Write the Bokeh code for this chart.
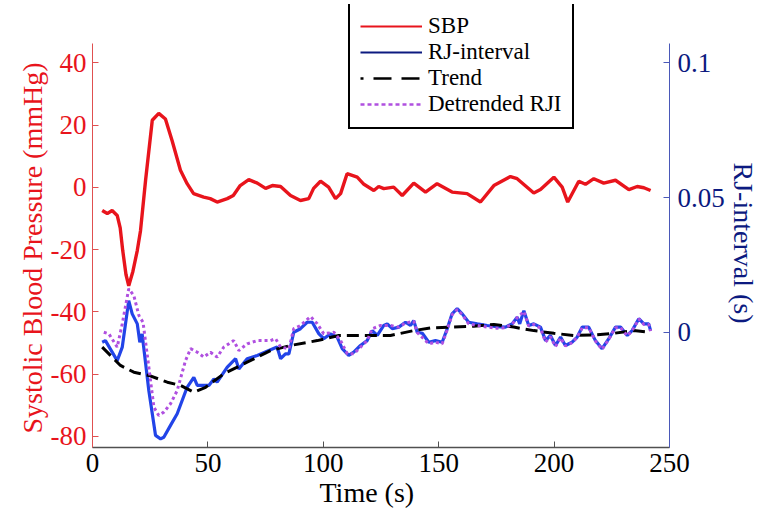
from bokeh.plotting import figure
from bokeh.models import Range1d, LinearAxis, FixedTicker, NumeralTickFormatter, Legend, LegendItem, Title
from bokeh.embed import file_html
from bokeh.resources import INLINE

# ---------------- data ----------------
sbp_t = [4.2, 6.4, 8.5, 10.7, 12.0, 13.1, 14.5, 15.7, 17.5, 19.4, 20.8, 23.0, 25.9, 28.7, 31.6,
         34.5, 38.1, 41.0, 43.8, 48.2, 51.0, 54.0, 58.4, 61.0, 64.0, 67.7, 71.4, 75.0, 77.9, 81.5,
         85.8, 90.1, 93.7, 95.8, 98.8, 102.3, 105.3, 107.5, 110.3, 114.7, 117.6, 121.9, 124.0, 126.2, 130.5,
         134.2, 139.2, 144.3, 149.3, 155.8, 162.3, 168.1, 173.9, 181.1, 184.0, 191.2, 194.1, 199.9, 203.5, 205.9,
         210.7, 213.6, 217.2, 221.5, 226.6, 232.4, 236.0, 238.9, 241.8]
sbp_v = [-7.4, -8.4, -7.4, -9.0, -13.0, -20.3, -28.0, -31.6, -27.0, -20.3, -13.9, 2.3, 21.6, 23.8, 22.0,
         15.0, 5.5, 1.2, -2.0, -3.1, -3.6, -4.7, -3.6, -2.6, 0.6, 2.5, 1.4, -0.3, 0.6, 0.3,
         -2.6, -4.2, -3.6, -0.3, 2.0, 0.1, -3.6, -2.0, 4.4, 3.3, 1.0, -1.0, 0.3, -0.4, 0.1,
         -2.6, 1.4, -1.5, 1.2, -1.5, -2.0, -4.7, 0.6, 3.5, 2.8, -1.8, -0.7, 3.3, 0.1, -4.7,
         2.0, 1.0, 2.8, 1.4, 2.3, -0.7, 0.3, -0.1, -1.0]

rji_t = [4.2, 5.6, 10.7, 12.9, 15.7, 17.2, 19.4, 20.5, 21.5, 24.4, 27.3, 29.5, 30.9, 33.8, 36.7,
         41.0, 43.9, 45.4, 50.4, 52.6, 54.0, 58.4, 62.0, 63.4, 67.0, 71.4, 76.4, 80.0, 81.5, 83.6,
         85.1, 87.2, 90.1, 93.0, 95.2, 98.1, 100.2, 103.1, 106.0, 108.2, 111.0, 113.2, 116.1, 119.0, 121.2,
         123.4, 126.2, 127.7, 129.9, 132.7, 135.6, 137.8, 139.2, 140.7, 142.9, 145.7, 148.6, 151.5, 153.7, 155.8,
         158.0, 160.2, 163.0, 166.7, 171.0, 175.3, 178.9, 181.8, 184.0, 185.1, 186.9, 189.0, 191.2, 194.1, 196.3,
         198.4, 200.6, 202.8, 204.9, 207.8, 210.0, 212.2, 215.0, 217.9, 220.8, 223.7, 226.6, 228.8, 231.7, 233.8,
         236.7, 238.9, 241.0, 241.8]
rji_v = [-0.0036, -0.0030, -0.0104, -0.0054, 0.0118, 0.0069, 0.0032, -0.0036, -0.0005, -0.0215, -0.0381, -0.0394, -0.0388, -0.0344, -0.0301,
         -0.0203, -0.0166, -0.0196, -0.0196, -0.0172, -0.0184, -0.0128, -0.0097, -0.0135, -0.0097, -0.0085, -0.0067, -0.0054, -0.0097, -0.0079,
         -0.0079, 0.0001, 0.0014, 0.0038, 0.0038, -0.0005, -0.0023, -0.0005, -0.0017, -0.0060, -0.0085, -0.0073, -0.0048, -0.0030, 0.0007,
         -0.0011, 0.0026, 0.0032, 0.0014, 0.0020, 0.0038, 0.0026, 0.0044, 0.0001, -0.0003, -0.0036, -0.0030, -0.0036, 0.0014, 0.0069,
         0.0088, 0.0069, 0.0038, 0.0032, 0.0026, 0.0022, 0.0020, 0.0032, 0.0057, 0.0032, 0.0081, 0.0026, 0.0032, 0.0020, -0.0030,
         -0.0011, -0.0048, -0.0017, -0.0048, -0.0036, -0.0017, 0.0020, 0.0020, -0.0030, -0.0060, -0.0023, 0.0020, 0.0020, -0.0011, 0.0007,
         0.0051, 0.0032, 0.0032, 0.0007]

trend_t = [4.2, 12.1, 17.9, 24.4, 32.4, 38.1, 43.9, 49.0, 56.9, 67.0, 77.1, 85.8, 97.4, 106.7, 123.4,
           129.1, 139.2, 146.4, 155.1, 165.2, 173.9, 182.5, 191.2, 199.9, 208.5, 217.2, 225.9, 234.5, 241.0]
trend_v = [-0.0054, -0.0122, -0.0147, -0.0159, -0.0184, -0.0196, -0.0221, -0.0203, -0.0153, -0.0110, -0.0067, -0.0048, -0.0030, -0.0011, -0.0011,
           -0.0011, 0.0007, 0.0017, 0.0020, 0.0023, 0.0030, 0.0020, 0.0007, -0.0003, -0.0011, -0.0009, -0.0003, 0.0007, 0.0001]

det_t = [4.9, 7.1, 10.7, 12.9, 15.7, 17.9, 20.1, 21.9, 24.4, 26.6, 28.7, 30.9, 33.8, 36.7, 40.3,
         42.5, 45.4, 48.2, 51.1, 54.0, 56.9, 61.2, 63.4, 67.0, 71.4, 77.1, 79.3, 81.5, 85.1, 87.2,
         90.1, 94.5, 97.4, 100.2, 104.6, 107.5, 110.4, 113.2, 119.0, 121.2, 124.8, 129.1, 132.7, 135.6, 139.2,
         140.7, 145.7, 148.6, 151.5, 153.7, 155.8, 158.0, 160.2, 163.0, 166.7, 171.0, 175.3, 178.9, 181.8, 184.0,
         186.9, 189.0, 191.2, 194.1, 196.3, 198.4, 200.6, 202.8, 204.9, 207.8, 210.0, 212.2, 215.0, 217.9, 220.8,
         223.7, 226.6, 228.8, 231.7, 233.8, 236.7, 238.9, 241.0, 241.8]
det_v = [0.0001, -0.0005, -0.0054, 0.0032, 0.0162, 0.0137, 0.0063, 0.0038, -0.0128, -0.0277, -0.0307, -0.0295, -0.0264, -0.0215, -0.0104,
         -0.0060, -0.0073, -0.0091, -0.0073, -0.0091, -0.0054, -0.0030, -0.0067, -0.0042, -0.0030, -0.0030, -0.0023, -0.0054, -0.0060, 0.0014,
         0.0026, 0.0059, 0.0032, -0.0005, 0.0001, -0.0030, -0.0079, -0.0079, -0.0030, 0.0014, 0.0026, 0.0026, 0.0020, 0.0035, 0.0042,
         0.0000, -0.0042, -0.0036, -0.0042, 0.0010, 0.0066, 0.0085, 0.0066, 0.0032, 0.0026, 0.0020, 0.0016, 0.0018, 0.0030, 0.0055,
         0.0078, 0.0024, 0.0030, 0.0016, -0.0035, -0.0016, -0.0052, -0.0020, -0.0050, -0.0038, -0.0018, 0.0018, 0.0018, -0.0032, -0.0062,
         -0.0025, 0.0018, 0.0018, -0.0012, 0.0006, 0.0050, 0.0030, 0.0030, 0.0005]

x_ticks = [0, 50, 100, 150, 200, 250]
left_ticks = [-80, -60, -40, -20, 0, 20, 40]
right_ticks = [0, 0.05, 0.1]
legend_labels = ["SBP", "RJ-interval", "Trend", "Detrended RJI"]
x_label = "Time (s)"
left_label = "Systolic Blood Pressure (mmHg)"
right_label = "RJ-interval (s)"

# ---------------- styling ----------------
FONT = "Liberation Serif"
RED = "#e8141c"
RED_AXIS = "#e05050"
BLUE = "#2244e8"
NAVY = "#0c1a80"
NAVY_AXIS = "#4a58b8"
PURPLE = "#b050e0"
TICK_FS = "27px"
LABEL_FS = "28px"

# frame extends above the axes' drawn extent so the legend box can sit there
p = figure(width=773, height=526, output_backend="svg", toolbar_location=None,
           x_range=Range1d(0, 250), y_range=Range1d(-83.6, 58.8),
           min_border_left=92, min_border_right=104, min_border_top=4, min_border_bottom=79)
p.extra_y_ranges = {"rji": Range1d(-0.0426, 0.1215)}
p.outline_line_color = None
p.xgrid.visible = False
p.ygrid.visible = False
p.background_fill_color = "white"
p.border_fill_color = "white"

# bottom axis
xa = p.xaxis[0]
xa.ticker = FixedTicker(ticks=x_ticks)
xa.axis_line_color = "#505050"
xa.axis_line_width = 1.5
xa.major_tick_in = 6
xa.major_tick_out = 0
xa.minor_tick_line_color = None
xa.major_tick_line_color = "#505050"
xa.major_label_text_font = FONT
xa.major_label_text_font_size = TICK_FS
xa.major_label_text_color = "black"
xa.major_label_standoff = 6

# left axis
ya = p.yaxis[0]
ya.ticker = FixedTicker(ticks=left_ticks)
ya.bounds = (-83.6, 46.3)
ya.major_label_overrides = {t: str(t) for t in left_ticks}
ya.axis_line_color = RED_AXIS
ya.axis_line_width = 1
ya.major_tick_in = 6
ya.major_tick_out = 0
ya.minor_tick_line_color = None
ya.major_tick_line_color = RED_AXIS
ya.major_label_text_font = FONT
ya.major_label_text_font_size = TICK_FS
ya.major_label_text_color = RED
ya.major_label_standoff = 6

# right axis
ra = LinearAxis(y_range_name="rji", ticker=FixedTicker(ticks=right_ticks),
                formatter=NumeralTickFormatter(format="0.[00]"), bounds=(-0.0426, 0.107))
ra.axis_line_color = NAVY_AXIS
ra.major_tick_in = 6
ra.major_tick_out = 0
ra.minor_tick_line_color = None
ra.major_tick_line_color = NAVY_AXIS
ra.major_label_text_font = FONT
ra.major_label_text_font_size = TICK_FS
ra.major_label_text_color = NAVY
ra.major_label_standoff = 8
p.add_layout(ra, "right")

# axis titles placed along the drawn axis extent (not the taller frame)
lt = Title(text=left_label, align="left", offset=14, text_font=FONT, text_font_size=LABEL_FS,
           text_font_style="normal", text_color=RED, standoff=0)
lt.padding = 0
p.add_layout(lt, "left")
rt = Title(text=right_label, align="left", offset=158, text_font=FONT, text_font_size=LABEL_FS,
           text_font_style="normal", text_color=NAVY, standoff=0)
rt.padding = 0
p.add_layout(rt, "right")
bt = Title(text=x_label, align="left", offset=227, text_font=FONT, text_font_size=LABEL_FS,
           text_font_style="normal", text_color="black", standoff=0)
bt.padding = 0
p.add_layout(bt, "below")

# ---------------- lines ----------------
p.line(sbp_t, sbp_v, line_color=RED, line_width=3.4)
p.line(rji_t, rji_v, line_color=BLUE, line_width=3.2, y_range_name="rji")
p.line(trend_t, trend_v, line_color="black", line_width=3, line_dash="12 6", y_range_name="rji")
p.line(det_t, det_v, line_color=PURPLE, line_width=3, line_dash="3 3", y_range_name="rji")

# legend proxies (renderers with no drawable points, carrying the legend styling)
nan2 = [float("nan"), float("nan")]
l1 = p.line(nan2, nan2, line_color=RED, line_width=2)
l2 = p.line(nan2, nan2, line_color=NAVY, line_width=2)
l3 = p.line(nan2, nan2, line_color="black", line_width=2.5, line_dash="18 10", line_dash_offset=15)
l4 = p.line(nan2, nan2, line_color=PURPLE, line_width=2.5, line_dash="4 3")

legend = Legend(items=[LegendItem(label=legend_labels[0], renderers=[l1]),
                       LegendItem(label=legend_labels[1], renderers=[l2]),
                       LegendItem(label=legend_labels[2], renderers=[l3]),
                       LegendItem(label=legend_labels[3], renderers=[l4])],
                location=(256, 318))
legend.border_line_color = "black"
legend.border_line_alpha = 1.0
legend.border_line_width = 2
legend.background_fill_color = "white"
legend.background_fill_alpha = 1
legend.label_text_font = FONT
legend.label_text_font_size = "23px"
legend.label_text_color = "black"
legend.glyph_width = 62
legend.glyph_height = 20
legend.label_height = 20
legend.label_standoff = 6
legend.spacing = -3
legend.padding = 10
legend.margin = 0
p.add_layout(legend, "center")

open("out.html", "w").write(file_html(p, INLINE))
